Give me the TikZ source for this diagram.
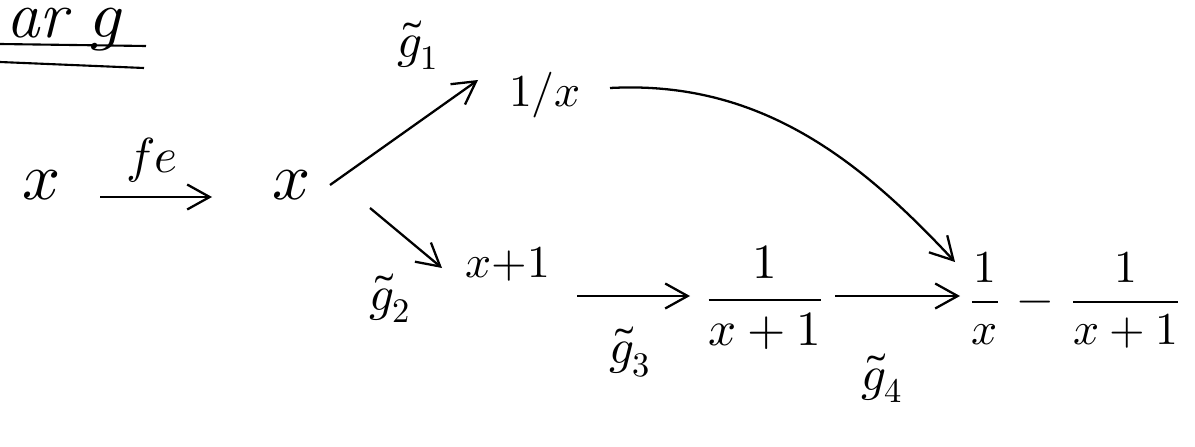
\documentclass[tikz,border=0pt]{standalone}
\usepackage{unicode-math}
\setmathfont{Latin Modern Math}
\usetikzlibrary{arrows.meta}
\tikzset{
  arr/.style={line width=1.3pt, -{Straight Barb[length=4.5mm,width=5mm,line width=1.3pt]}},
  big/.style={font=\fontsize{38}{42}\selectfont, inner sep=2pt},
  mid/.style={font=\fontsize{28}{32}\selectfont, inner sep=2pt},
  res/.style={font=\fontsize{26}{30}\selectfont, inner sep=2pt},
  small/.style={font=\fontsize{26}{30}\selectfont, inner sep=2pt},
  ul/.style={line width=1.2pt}
}
\begin{document}
\begin{tikzpicture}[x=0.02cm,y=-0.02cm]
\useasboundingbox (0,0) rectangle (1195,446);
% cropped heading
\node[big, anchor=base east] (head) at (128,38) {\itshape ar $g$};
\coordinate (u1a) at (0,44); \coordinate (u1b) at (146,46);
\coordinate (u2a) at (0,62); \coordinate (u2b) at (144,68);
\draw[ul] (u1a) -- (u1b);
\draw[ul] (u2a) -- (u2b);
% nodes
\node[big] (xa) at (42,185) {$x$};
\node[big] (xb) at (292,185) {$x$};
\node[small] (inv) at (545,95) {$1/x$};
\node[small] (xp) at (508,264) {$x{+}1$};
\node[mid] (fr) at (765,298) {$\dfrac{1}{x+1}$};
\node[res] (res) at (1075,300) {$\dfrac{1}{x}\,-\,\dfrac{1}{x+1}$};
% labels
\node[mid] (fe) at (152,160) {$fe$};
\node[mid] (g1) at (418,45) {$\tilde g_1$};
\node[mid] (g2) at (390,298) {$\tilde g_2$};
\node[mid] (g3) at (630,352) {$\tilde g_3$};
\node[mid] (g4) at (882,378) {$\tilde g_4$};
% arrow ends
\coordinate (a0) at (100,197); \coordinate (a1) at (212,197);
\coordinate (b0) at (330,185); \coordinate (b1) at (478,80);
\coordinate (c0) at (370,208); \coordinate (c1) at (442,268);
\coordinate (d0) at (577,296); \coordinate (d1) at (690,296);
\coordinate (e0) at (835,296); \coordinate (e1) at (960,296);
\coordinate (f0) at (610,88);  \coordinate (f1) at (955,262);
% arrows
\draw[arr] (a0) -- (a1);
\draw[arr] (b0) -- (b1);
\draw[arr] (c0) -- (c1);
\draw[arr] (d0) -- (d1);
\draw[arr] (e0) -- (e1);
\draw[arr] (f0) .. controls (760,80) and (860,160) .. (f1);
\end{tikzpicture}
\end{document}
